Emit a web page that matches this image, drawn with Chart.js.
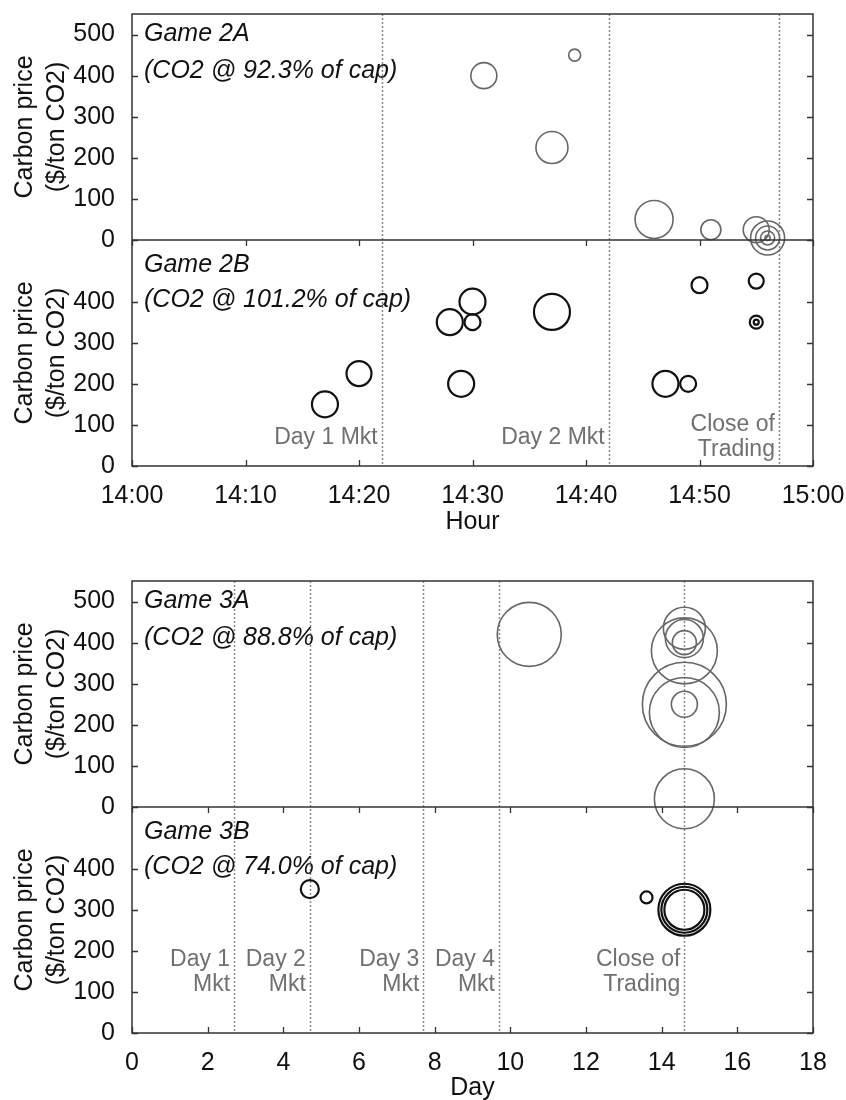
<!DOCTYPE html>
<html>
<head>
<meta charset="utf-8">
<script src="https://cdn.jsdelivr.net/npm/chart.js@4.4.1/dist/chart.umd.min.js"></script>
<style>
  html, body { margin: 0; padding: 0; background: #fff; overflow: hidden; }
  canvas { display: block; }
</style>
</head>
<body>
<canvas id="game2" width="846" height="560"></canvas>
<canvas id="game3" width="846" height="560"></canvas>
<script>
// Game 2 trades: clock time, price ($/ton CO2), bubble radius (px)
var game2ATime  = ['14:31', '14:39', '14:37', '14:46', '14:51', '14:55', '14:56', '14:56', '14:56', '14:56'];
var game2APrice = [400, 450, 225, 50, 25, 25, 5, 5, 5, 5];
var game2ASize  = [13, 6, 16, 19, 10, 13, 17, 12, 7, 2.5];

var game2BTime  = ['14:17', '14:20', '14:28', '14:30', '14:30', '14:29', '14:37', '14:47', '14:49', '14:50', '14:55', '14:55', '14:55'];
var game2BPrice = [150, 225, 350, 400, 350, 200, 375, 200, 200, 440, 450, 350, 350];
var game2BSize  = [13, 12.5, 13, 13, 8, 13, 18, 13, 8, 8, 7.5, 6.5, 2.5];

// Game 3 trades: day, price, bubble radius (px)
var game3ADay   = [10.5, 14.6, 14.6, 14.6, 14.6, 14.6, 14.6, 14.6, 14.6];
var game3APrice = [420, 435, 410, 400, 380, 250, 230, 250, 20];
var game3ASize  = [32, 21, 19, 12, 33, 42, 35, 13, 30];

var game3BDay   = [4.7, 13.6, 14.6, 14.6, 14.6];
var game3BPrice = [350, 330, 300, 300, 300];
var game3BSize  = [9, 6, 26, 23, 20];

// market closings (dashed lines)
var game2Markets = ['14:22', '14:42', '14:57'];
var game2MarketLabels = [['Day 1 Mkt'], ['Day 2 Mkt'], ['Close of', 'Trading']];
var game3Markets = [2.7, 4.7, 7.7, 9.7, 14.6];
var game3MarketLabels = [['Day 1', 'Mkt'], ['Day 2', 'Mkt'], ['Day 3', 'Mkt'], ['Day 4', 'Mkt'], ['Close of', 'Trading']];

// ticks
var hourTicks = ['14:00', '14:10', '14:20', '14:30', '14:40', '14:50', '15:00'];
var dayTicks = [0, 2, 4, 6, 8, 10, 12, 14, 16, 18];
var priceTicksA = [0, 100, 200, 300, 400, 500];
var priceTicksB = [0, 100, 200, 300, 400];

var FONT = 'Liberation Sans, Arial, sans-serif';

function mins(t) {
  var p = t.split(':');
  return (parseInt(p[0], 10) - 14) * 60 + parseInt(p[1], 10);
}

function bubbles(xs, ys, rs) {
  var out = [];
  for (var i = 0; i < xs.length; i++) out.push({x: xs[i], y: ys[i], r: rs[i]});
  return out;
}

var panelPlugin = {
  id: 'panels',
  beforeDatasetsDraw: function (chart, args, o) {
    var ctx = chart.ctx, a = chart.chartArea, x = chart.scales.x;
    ctx.save();
    ctx.strokeStyle = '#8a8a8a';
    ctx.lineWidth = 1.5;
    ctx.setLineDash([2, 2]);
    o.markets.forEach(function (m) {
      var px = Math.round(x.getPixelForValue(m)) + 0.5;
      ctx.beginPath(); ctx.moveTo(px, a.top); ctx.lineTo(px, a.bottom); ctx.stroke();
    });
    ctx.restore();
  },
  afterDraw: function (chart, args, o) {
    var ctx = chart.ctx, a = chart.chartArea, x = chart.scales.x;
    var yA = chart.scales.yA, yB = chart.scales.yB;
    ctx.save();
    ctx.strokeStyle = '#333';
    ctx.lineWidth = 1.5;
    ctx.strokeRect(a.left, a.top, a.right - a.left, a.bottom - a.top);
    ctx.beginPath(); ctx.moveTo(a.left, yA.bottom); ctx.lineTo(a.right, yA.bottom); ctx.stroke();

    // inward ticks
    ctx.lineWidth = 1.3;
    ctx.beginPath();
    [[yA, priceTicksA], [yB, priceTicksB]].forEach(function (s) {
      s[1].forEach(function (v) {
        var py = Math.round(s[0].getPixelForValue(v)) + 0.5;
        ctx.moveTo(a.left, py); ctx.lineTo(a.left + 6, py);
        ctx.moveTo(a.right, py); ctx.lineTo(a.right - 6, py);
      });
    });
    x.ticks.forEach(function (t) {
      var px = Math.round(x.getPixelForValue(t.value)) + 0.5;
      ctx.moveTo(px, a.bottom); ctx.lineTo(px, a.bottom - 6);
      ctx.moveTo(px, yA.bottom); ctx.lineTo(px, yA.bottom + 6);
    });
    ctx.stroke();

    // game labels
    ctx.fillStyle = '#111';
    ctx.font = 'italic 25px ' + FONT;
    ctx.textAlign = 'left';
    ctx.textBaseline = 'middle';
    ctx.fillText(o.games[0][0], a.left + 12, yA.top + 20);
    ctx.fillText(o.games[0][1], a.left + 12, yA.top + 57);
    ctx.fillText(o.games[1][0], a.left + 12, yB.top + 25);
    ctx.fillText(o.games[1][1], a.left + 12, yB.top + 60);

    // market labels
    ctx.fillStyle = '#707070';
    ctx.font = '23px ' + FONT;
    ctx.textAlign = 'right';
    o.markets.forEach(function (m, i) {
      var px = x.getPixelForValue(m) - 4;
      var lines = o.labels[i];
      var ys = lines.length === 1 ? o.oneLineY : o.twoLineY;
      lines.forEach(function (txt, j) {
        ctx.fillText(txt, px, yB.getPixelForValue(ys[j]));
      });
    });
    ctx.restore();
  }
};

function yScale(ticks, weight) {
  return {
    type: 'linear', position: 'left', stack: 'price', stackWeight: 1, weight: weight,
    min: 0, max: 550,
    grid: {display: false}, border: {display: false},
    afterBuildTicks: function (s) { s.ticks = ticks.map(function (v) { return {value: v}; }); },
    afterFit: function (s) { s.width = 132; s.paddingTop = 0; s.paddingBottom = 0; },
    ticks: {font: {family: FONT, size: 25}, color: '#111', padding: 9, autoSkip: false},
    title: {display: true, text: ['Carbon price', '($/ton CO2)'], color: '#111',
            font: {family: FONT, size: 25, lineHeight: 1.28}, padding: {top: 9, bottom: 0}}
  };
}

function makeChart(id, cfg) {
  return new Chart(document.getElementById(id), {
    type: 'bubble',
    data: {
      datasets: [
        {label: cfg.games[0][0], yAxisID: 'yA', data: cfg.a, borderColor: '#666', borderWidth: 1.6,
         backgroundColor: 'rgba(0,0,0,0)', clip: false},
        {label: cfg.games[1][0], yAxisID: 'yB', data: cfg.b, borderColor: '#111', borderWidth: 2.2,
         backgroundColor: 'rgba(0,0,0,0)', clip: false}
      ]
    },
    options: {
      responsive: false,
      animation: false,
      events: [],
      layout: {autoPadding: false, padding: {top: cfg.top, right: 33, left: 0, bottom: 0}},
      plugins: {legend: {display: false}, tooltip: {enabled: false}, panels: cfg},
      scales: {
        x: {
          type: 'linear', min: cfg.xTicks[0], max: cfg.xTicks[cfg.xTicks.length - 1],
          grid: {display: false}, border: {display: false},
          afterBuildTicks: function (s) { s.ticks = cfg.xTicks.map(function (v) { return {value: v}; }); },
          afterFit: function (s) { s.height = cfg.xHeight; s.paddingLeft = 0; s.paddingRight = 0; },
          ticks: {callback: cfg.xFmt, font: {family: FONT, size: 25}, color: '#111', padding: 7,
                  maxRotation: 0, autoSkip: false},
          title: {display: true, text: cfg.xTitle, color: '#111', font: {family: FONT, size: 25},
                  padding: {top: 0, bottom: cfg.titlePad}}
        },
        yA: yScale(priceTicksA, 2),
        yB: yScale(priceTicksB, 1)
      }
    },
    plugins: [panelPlugin]
  });
}

makeChart('game2', {
  a: bubbles(game2ATime.map(mins), game2APrice, game2ASize),
  b: bubbles(game2BTime.map(mins), game2BPrice, game2BSize),
  games: [['Game 2A', '(CO2 @ 92.3% of cap)'], ['Game 2B', '(CO2 @ 101.2% of cap)']],
  markets: game2Markets.map(mins),
  labels: game2MarketLabels,
  oneLineY: [69], twoLineY: [101, 39],
  xTicks: hourTicks.map(mins),
  xFmt: function (v) { return hourTicks[Math.round(v / 10)]; },
  xTitle: 'Hour', top: 14, xHeight: 94, titlePad: 23
});

makeChart('game3', {
  a: bubbles(game3ADay, game3APrice, game3ASize),
  b: bubbles(game3BDay, game3BPrice, game3BSize),
  games: [['Game 3A', '(CO2 @ 88.8% of cap)'], ['Game 3B', '(CO2 @ 74.0% of cap)']],
  markets: game3Markets,
  labels: game3MarketLabels,
  oneLineY: [69], twoLineY: [179, 118],
  xTicks: dayTicks,
  xFmt: function (v) { return String(v); },
  xTitle: 'Day', top: 21, xHeight: 87, titlePad: 17
});
</script>
</body>
</html>
